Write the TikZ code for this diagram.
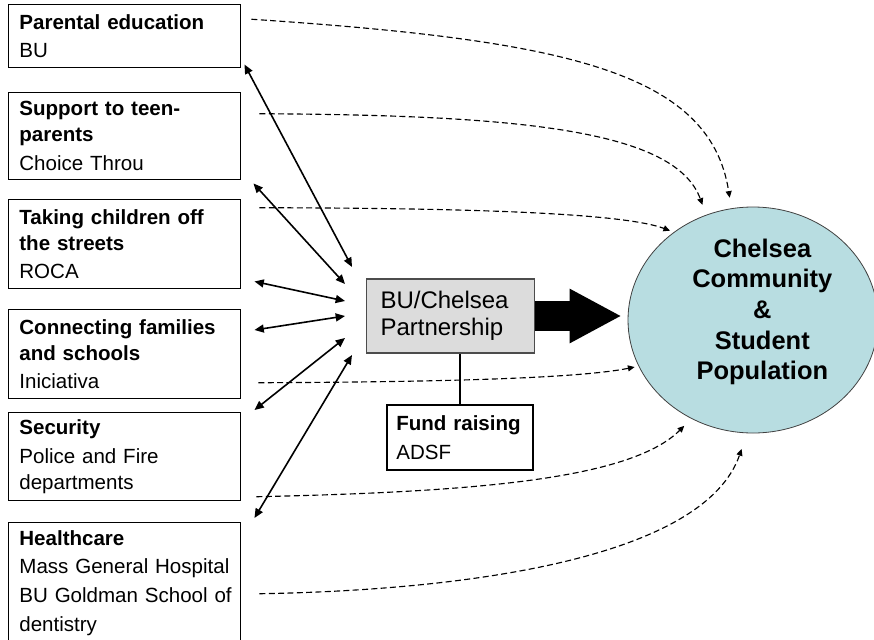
\documentclass[tikz,border=0pt]{standalone}
\usepackage{fontspec}
\setmainfont{Liberation Sans}
\usetikzlibrary{arrows.meta,shapes.geometric}

\definecolor{partgray}{RGB}{220,220,220}
\definecolor{popblue}{RGB}{184,221,225}

\begin{document}
\begin{tikzpicture}[x=0.75pt,y=-0.75pt,
    org/.style={draw,line width=1.1pt,anchor=north west,minimum width=174pt,
      text width=158pt,inner xsep=8pt,inner ysep=0pt,align=left,
      font=\fontsize{15.4}{19.5}\selectfont},
    part/.style={draw=black!70,fill=partgray,line width=1pt,minimum width=126pt,
      minimum height=55.5pt,text width=105pt,inner xsep=10.5pt,align=left,
      font=\fontsize{18}{20.3}\selectfont},
    pop/.style={ellipse,draw=black!75,fill=popblue,line width=0.6pt,
      minimum width=187.5pt,minimum height=169.5pt,inner sep=0pt},
    poptext/.style={align=center,xshift=7pt,yshift=6pt,
      font=\bfseries\fontsize{19.1}{23}\selectfont},
    link/.style={line width=1.2pt,{Triangle[length=7pt,width=6pt]}-{Triangle[length=7pt,width=6pt]}},
    reach/.style={dash pattern=on 4.5pt off 2.5pt,line width=0.85pt,
      -{Triangle[length=5pt,width=4.5pt]}},
    bigarrow/.style={line width=22.5pt,-{Triangle[length=39pt,width=38pt]}}]
  \useasboundingbox (0,0) rectangle (874,639);

  % programs on the left
  \node[org,minimum height=47.25pt] (parent) at (8,4)
    {{\bfseries Parental education}\\[2pt] BU};
  \node[org,minimum height=65.25pt] (teen) at (8,92)
    {{\bfseries Support to teen-\\ parents}\\[2pt] Choice Throu};
  \node[org,minimum height=66.75pt] (streets) at (8,199)
    {{\bfseries Taking children off\\ the streets}\\[2pt] ROCA};
  \node[org,minimum height=66.75pt] (schools) at (8,309)
    {{\bfseries Connecting families\\ and schools}\\[2pt] Iniciativa};
  \node[org,minimum height=66pt] (security) at (8,412)
    {{\bfseries Security}\\[2pt] Police and Fire\\ departments};
  \node[org,minimum height=90pt] (health) at (8,522)
    {{\bfseries Healthcare}\\[2pt] \mbox{Mass General Hospital}\\[2pt]
     \mbox{BU Goldman School of}\\[2pt] dentistry};

  % partnership and target
  \node[part] (bu) at (450.5,316) {BU/Chelsea\\Partnership};
  \node[org,anchor=center,minimum width=109.5pt,text width=95.5pt,inner xsep=7pt,
    minimum height=48.75pt] (fund) at (460,437.5) {{\bfseries Fund raising}\\[2pt] ADSF};
  \node[pop,label={[poptext]center:{Chelsea\\Community\\\&\\Student\\Population}}]
    (pop) at (753,320) {};

  \draw[line width=1.1pt] (fund.north) -- (fund.north |- bu.south);
  \draw[bigarrow,shorten >=4.5pt] (bu.east) -- (bu.east -| pop.west);

  % links into the partnership
  \coordinate (h1) at (352,267);
  \coordinate (h2) at (345,284);
  \coordinate (h3) at (345,301);
  \coordinate (h4) at (345,316);
  \coordinate (h5) at (345,338);
  \coordinate (h6) at (352,355);
  \draw[link] ([shift={(3,-4)}]parent.south east) -- (h1);
  \draw[link] ([shift={(12,3)}]teen.south east) -- (h2);
  \draw[link] ([shift={(13,-8)}]streets.south east) -- (h3);
  \draw[link] ([shift={(13,21)}]schools.north east) -- (h4);
  \draw[link] ([shift={(13,-2)}]security.north east) -- (h5);
  \draw[link] ([shift={(13,-4)}]health.north east) -- (h6);

  % reach into the community
  \draw[reach,shorten >=8pt] ([shift={(10,-17)}]parent.east)
    .. controls (560,40) and (710,70) .. (pop.101);
  \draw[reach,shorten >=8pt] ([shift={(18,-22.5)}]teen.east)
    .. controls (520,115) and (675,130) .. (pop.114);
  \draw[reach,shorten >=3pt] ([shift={(18,-36.5)}]streets.east)
    .. controls (450,208) and (620,212) .. (pop.132);
  \draw[reach,shorten >=3pt] ([shift={(17,28.5)}]schools.east)
    .. controls (450,382) and (580,378) .. (pop.202);
  \draw[reach,shorten >=7.5pt] ([shift={(15,40)}]security.east)
    .. controls (470,492) and (630,480) .. (pop.238);
  \draw[reach,shorten >=12.5pt] ([shift={(18,11)}]health.east)
    .. controls (480,590) and (705,555) .. (pop.267);
\end{tikzpicture}
\end{document}
